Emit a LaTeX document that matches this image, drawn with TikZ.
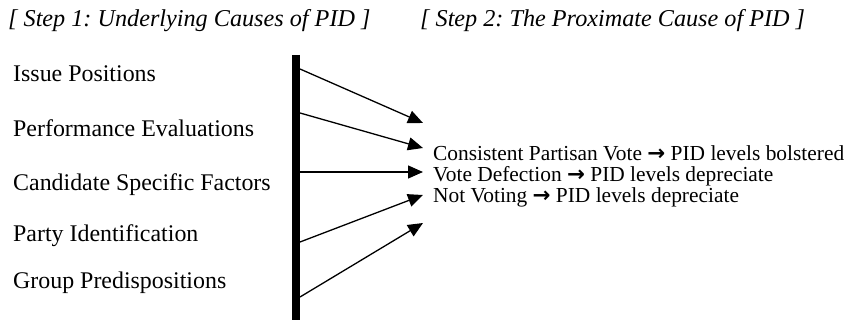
\documentclass[tikz,border=0pt]{standalone}
\usepackage{fontspec}
\setmainfont{Liberation Serif}
\newfontfamily\arrowfont{DejaVu Sans}
\usetikzlibrary{arrows.meta}
\newcommand{\ra}{{\arrowfont\bfseries →}}
\frenchspacing

\begin{document}
\begin{tikzpicture}[x=1pt,y=-1pt,>={Triangle[length=15pt,width=13pt]}]
  \useasboundingbox (0,0) rectangle (853,320);

  \tikzset{
    head/.style={anchor=base west, inner sep=0pt, font=\fontsize{24.2}{28}\selectfont\itshape},
    cause/.style={anchor=base west, inner sep=0pt, font=\fontsize{23.9}{27}\selectfont},
    effect/.style={anchor=base west, inner sep=0pt, font=\fontsize{21.4}{23}\selectfont},
    link/.style={->, line width=1.3pt}
  }

  \begin{scope}

  \node[head] (h1) at (8,26.7) {[ Step 1: Underlying Causes of PID ]};
  \node[head] (h2) at (420,26.7) {[ Step 2: The Proximate Cause of PID ]};

  \node[cause] (c1) at (13,82) {Issue Positions};
  \node[cause] (c2) at (13,137) {Performance Evaluations};
  \node[cause] (c3) at (13,190.7) {Candidate Specific Factors};
  \node[cause] (c4) at (13,241.7) {Party Identification};
  \node[cause] (c5) at (13,288) {Group Predispositions};

  % the thick bar
  \coordinate (btop) at (296,55);
  \coordinate (bbot) at (296,320);
  \draw[line width=8pt] (btop) -- (bbot);

  \coordinate (s1) at (300,69);
  \coordinate (s2) at (300,113);
  \coordinate (s3) at (300,172);
  \coordinate (s4) at (300,242);
  \coordinate (s5) at (300,297);

  \coordinate (t1) at (423,123);
  \coordinate (t2) at (423,148);
  \coordinate (t3) at (423,172);
  \coordinate (t4) at (423,195);
  \coordinate (t5) at (423,223);

  \foreach \i in {1,...,5}
    \draw[link] (s\i) -- (t\i);

  \node[effect] (e1) at (433,160.7) {Consistent Partisan Vote \ra{} PID levels bolstered};
  \node[effect] (e2) at (433,181.7) {Vote Defection \ra{} PID levels depreciate};
  \node[effect] (e3) at (433,202.7) {Not Voting \ra{} PID levels depreciate};

  \end{scope}
\end{tikzpicture}
\end{document}
